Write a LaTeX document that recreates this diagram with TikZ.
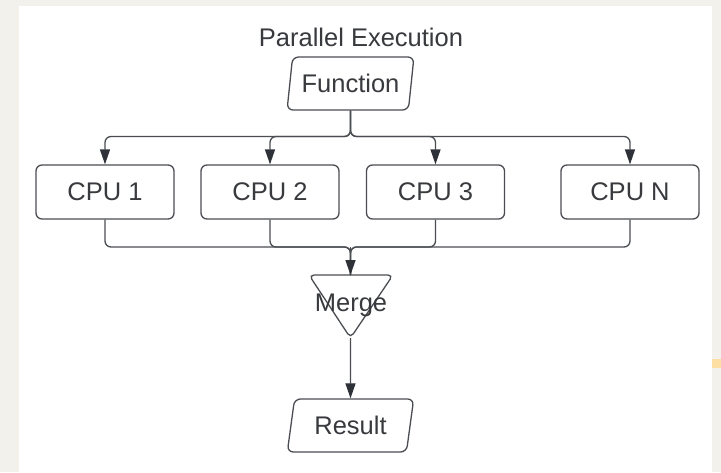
\documentclass[tikz,border=0pt]{standalone}
\usepackage{fontspec}
\setmainfont{Liberation Sans}
\usetikzlibrary{arrows.meta,shapes.geometric,calc}
\definecolor{bgout}{HTML}{F2F1EC}
\definecolor{ln}{HTML}{4A4D52}
\definecolor{tip}{HTML}{2E3238}
\definecolor{txt}{HTML}{383A3E}
\definecolor{orangemark}{HTML}{FDDFA4}
\begin{document}
\begin{tikzpicture}[x=1pt,y=-1pt,
  font=\fontsize{25.5}{30}\selectfont,
  cpubox/.style={draw=ln,line width=1.3pt,rounded corners=6pt,minimum width=138pt,minimum height=54pt,text=txt,inner sep=0pt},
  para/.style={draw=ln,line width=1.3pt,trapezium,trapezium left angle=76,trapezium right angle=104,trapezium stretches=true,minimum width=127pt,minimum height=53pt,rounded corners=6pt,text=txt,inner sep=0pt},
  conn/.style={draw=ln,line width=1.3pt,rounded corners=6pt},
  arr/.style={conn,-{Triangle[length=15pt,width=10pt,color=tip]}}
]
\useasboundingbox (0,0) rectangle (721,472);
\fill[bgout] (0,0) rectangle (721,472);
\fill[white] (19,6) rectangle (712,472);
\fill[orangemark] (712,359) rectangle (721,368);

\node[text=txt] (title) at (361,37) {Parallel Execution};
\node[para] (fn) at (350.5,83.5) {Function};

\node[cpubox] (c1) at (105,192) {CPU 1};
\node[cpubox] (c2) at (270,192) {CPU 2};
\node[cpubox] (c3) at (435.5,192) {CPU 3};
\node[cpubox] (cn) at (630,192) {CPU N};

\coordinate (split) at (350.5,136.5);
\coordinate (join) at (350.5,247);
\coordinate (mtop) at (350.5,275);
\coordinate (mbot) at (350.5,338);

\foreach \c in {c1,c2,c3,cn}{
  \draw[arr] (fn.south) -- (split) -| (\c.north);
  \draw[conn] (\c.south) |- (join) -- (mtop);
}
\draw[arr] (join) -- (mtop);

\draw[draw=ln,line width=1.3pt,rounded corners=5pt] (309,275) -- (393,275) -- (mbot) -- cycle;
\node[text=txt] (merge) at (351,305) {Merge};

\node[para] (res) at (350.5,425.5) {Result};
\draw[arr] (mbot) -- (res.north);
\end{tikzpicture}
\end{document}
